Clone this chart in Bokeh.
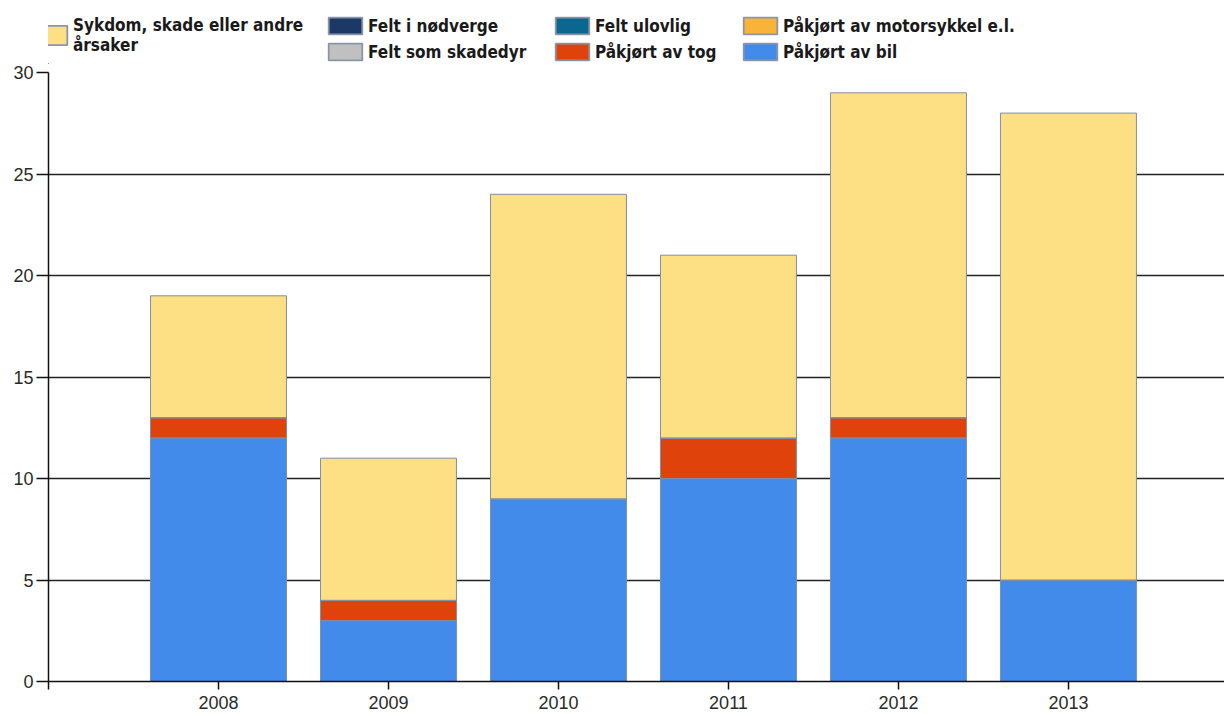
from bokeh.plotting import figure
from bokeh.models import Legend, LegendItem, ColumnDataSource, FixedTicker, Range1d
from bokeh.layouts import column
from bokeh.embed import file_html
from bokeh.resources import INLINE

years = ["2008", "2009", "2010", "2011", "2012", "2013"]
positions = [1, 2, 3, 4, 5, 6]
bil = [12, 3, 9, 10, 12, 5]
tog = [1, 1, 0, 2, 1, 0]
motorsykkel = [0, 0, 0, 0, 0, 0]
skadedyr = [0, 0, 0, 0, 0, 0]
ulovlig = [0, 0, 0, 0, 0, 0]
nodverge = [0, 0, 0, 0, 0, 0]
sykdom = [6, 7, 15, 9, 16, 23]

series = ["bil", "tog", "motorsykkel", "skadedyr", "ulovlig", "nodverge", "sykdom"]
labels = {
    "bil": "Påkjørt av bil",
    "tog": "Påkjørt av tog",
    "motorsykkel": "Påkjørt av motorsykkel e.l.",
    "skadedyr": "Felt som skadedyr",
    "ulovlig": "Felt ulovlig",
    "nodverge": "Felt i nødverge",
    "sykdom": "Sykdom, skade eller andre\nårsaker",
}
colors = ["#428BEB", "#E0420C", "#F9B33B", "#C0C0C0", "#0B6690", "#1C3866", "#FDDF84"]
color_of = dict(zip(series, colors))

source = ColumnDataSource(dict(x=positions, bil=bil, tog=tog, motorsykkel=motorsykkel,
                               skadedyr=skadedyr, ulovlig=ulovlig, nodverge=nodverge,
                               sykdom=sykdom))

# ---------------- main chart ----------------
p = figure(width=1224, height=652, x_range=Range1d(0, 6.918), y_range=Range1d(0, 30),
           output_backend="svg", toolbar_location=None,
           min_border_left=48, min_border_right=0, min_border_top=8, min_border_bottom=35)
p.outline_line_color = None
p.background_fill_color = "white"

p.vbar_stack(series, x="x", width=0.8, color=colors, source=source,
             line_color="#7F8FA6", line_width=1)

p.xgrid.visible = False
p.ygrid.grid_line_color = "#222222"
p.ygrid.grid_line_width = 1.3
p.ygrid.ticker = FixedTicker(ticks=[5, 10, 15, 20, 25])
p.yaxis.ticker = FixedTicker(ticks=[0, 5, 10, 15, 20, 25, 30])
p.xaxis.ticker = FixedTicker(ticks=[0, 1, 2, 3, 4, 5, 6])
p.xaxis.major_label_overrides = {0: "", 1: years[0], 2: years[1], 3: years[2],
                                 4: years[3], 5: years[4], 6: years[5]}
for ax in (p.xaxis[0], p.yaxis[0]):
    ax.axis_line_color = "#111111"
    ax.axis_line_width = 1.5
    ax.major_tick_line_color = "#111111"
    ax.major_tick_line_width = 1.5
    ax.minor_tick_line_color = None
    ax.major_tick_in = 0
    ax.major_label_text_font = "Liberation Sans"
    ax.major_label_text_font_size = "18px"
    ax.major_label_text_color = "#2a2a2a"
p.yaxis.major_tick_out = 12
p.yaxis.major_label_standoff = 3
p.xaxis.major_tick_out = 8
p.xaxis.major_label_standoff = 6

# ---------------- legend strip ----------------
# proxies reuse the same data but sit outside this strip's visible range
lf = figure(width=1224, height=64, x_range=Range1d(100, 101), y_range=Range1d(100, 101),
            output_backend="svg", toolbar_location=None,
            min_border_left=48, min_border_right=0, min_border_top=0, min_border_bottom=0)
lf.axis.visible = False
lf.grid.visible = False
lf.outline_line_color = None

proxy = {}
for k in series:
    proxy[k] = lf.vbar(x="x", top=k, source=source, width=0.8, fill_color=color_of[k],
                       line_color="#8A96A6", line_width=1.8)

font = "DejaVu Sans Condensed"


def style(leg):
    leg.label_text_font = font
    leg.label_text_font_style = "bold"
    leg.label_text_font_size = "17px"
    leg.label_text_color = "#1a1a1a"
    leg.glyph_width = 42
    leg.glyph_height = 21
    leg.label_standoff = 2
    leg.margin = 0
    leg.padding = 0
    leg.border_line_color = None
    leg.background_fill_alpha = 0


legA = Legend(items=[LegendItem(label=labels["sykdom"], renderers=[proxy["sykdom"]])],
              location=(-19, 9))
style(legA)
legA.glyph_height = 24
legA.label_text_line_height = 2.0
lf.add_layout(legA, "center")

cols = [(["nodverge", "skadedyr"], 276), (["ulovlig", "tog"], 503), (["motorsykkel", "bil"], 691)]
for keys, vx in cols:
    lg = Legend(items=[LegendItem(label=labels[k], renderers=[proxy[k]]) for k in keys],
                location=(vx, 2))
    style(lg)
    lg.spacing = 5
    lg.label_height = 18
    lf.add_layout(lg, "center")

layout = column(lf, p, spacing=0)
open("out.html", "w").write(file_html(layout, INLINE))
